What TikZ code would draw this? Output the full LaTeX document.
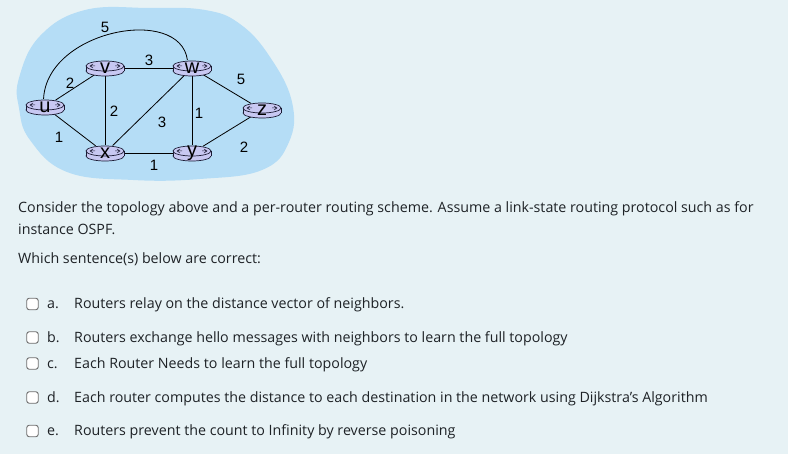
\documentclass[tikz,border=0pt]{standalone}
\usepackage{fontspec}
\setmainfont{Open Sans}
\newfontfamily\labelfont{Liberation Sans}
\usetikzlibrary{shapes.geometric}
\definecolor{bgcol}{HTML}{E7F2F5}
\definecolor{blobcol}{HTML}{B5DDF6}
\definecolor{rfill}{HTML}{C8C8F2}
\definecolor{rline}{HTML}{1A1A33}
\definecolor{txtcol}{HTML}{1E2226}
\definecolor{boxline}{HTML}{6E6E6E}
\tikzset{
  link/.style={draw=black, line width=0.8pt},
  rnode/.style={ellipse, minimum width=38pt, minimum height=16pt, inner sep=0pt},
  rlabel/.style={font=\labelfont\fontsize{20}{20}\selectfont, inner sep=0pt, text=black},
  wlabel/.style={font=\labelfont\fontsize{15}{15}\selectfont, inner sep=0pt, text=black},
  qtext/.style={font=\fontsize{14.25}{16}\selectfont, text=txtcol, anchor=base west, inner sep=0pt},
  cbox/.style={draw=boxline, fill=white, rounded corners=2.5pt, line width=0.9pt, minimum width=11.5pt, minimum height=11.5pt, inner sep=0pt},
}
\newcommand\router[4]{%
  \fill[rfill, draw=rline, line width=0.7pt] (#2,#3+3) ellipse[x radius=19pt, y radius=5pt];
  \fill[rfill] (#2-19,#3-2) rectangle (#2+19,#3+3);
  \draw[rline, line width=0.7pt] (#2-19,#3-2) -- (#2-19,#3+3) (#2+19,#3-2) -- (#2+19,#3+3);
  \fill[rfill, draw=rline, line width=0.7pt] (#2,#3-2) ellipse[x radius=19pt, y radius=5pt];
  \draw[rline, line width=0.5pt] (#2-12,#3-4) -- (#2-15,#3-2) -- (#2-12,#3) (#2-15,#3-2) -- (#2-10,#3-2);
  \draw[rline, line width=0.5pt] (#2+12,#3-4) -- (#2+15,#3-2) -- (#2+12,#3) (#2+15,#3-2) -- (#2+10,#3-2);
  \node[rnode] (#1) at (#2,#3) {};
  \node[rlabel] (#1-lab) at (#2,#3+0.5) {#4};
}
\begin{document}
\begin{tikzpicture}[x=1pt, y=-1pt]
\fill[bgcol] (0,0) rectangle (788,454);
\useasboundingbox (0,0) rectangle (788,454);
% cloud
\fill[blobcol] plot[smooth cycle, tension=0.7] coordinates {
  (19,78) (40,36) (85,10) (150,8) (205,10) (240,24) (270,57) (292,102)
  (289,142) (262,170) (200,179) (133,180) (67,172) (30,140) (19,108)};
% router node anchors (invisible, for links)
\node[rnode] (u) at (45,107) {};
\node[rnode] (v) at (105,68) {};
\node[rnode] (w) at (192,68) {};
\node[rnode] (z) at (262,110) {};
\node[rnode] (x) at (105,153) {};
\node[rnode] (y) at (192,153) {};
% links
\draw[link] (u) -- (v);
\draw[link] (u) -- (x);
\draw[link] (v) -- (w);
\draw[link] (v) -- (x);
\draw[link] (x) -- (w);
\draw[link] (w) -- (y);
\draw[link] (w) -- (z);
\draw[link] (x) -- (y);
\draw[link] (y) -- (z);
\draw[link] (u.100) .. controls (47,30) and (180,5) .. (w.120);
% routers
\router{ru}{45}{107}{u}
\router{rv}{105}{68}{v}
\router{rw}{192}{68}{w}
\router{rz}{262}{110}{z}
\router{rx}{105}{153}{x}
\router{ry}{192}{153}{y}
% weights
\node[wlabel] (l-uw) at (105,27) {5};
\node[wlabel] (l-vw) at (149,60) {3};
\node[wlabel] (l-uv) at (70,83) {2};
\node[wlabel] (l-wz) at (241,79) {5};
\node[wlabel] (l-vx) at (114,111) {2};
\node[wlabel] (l-wy) at (199,113) {1};
\node[wlabel] (l-xw) at (162,122) {3};
\node[wlabel] (l-ux) at (59,137) {1};
\node[wlabel] (l-yz) at (244,147) {2};
\node[wlabel] (l-xy) at (154,165) {1};
% question text
\node[qtext] (q1) at (18,213) {Consider the topology above and a per-router routing scheme. Assume a link-state routing protocol such as for};
\node[qtext] (q2) at (18,235) {instance OSPF.};
\node[qtext] (q3) at (18,264) {Which sentence(s) below are correct:};
% options
\node[cbox] (ba) at (32.5,304) {};
\node[cbox] (bb) at (32.5,337.5) {};
\node[cbox] (bc) at (32.5,363.5) {};
\node[cbox] (bd) at (32.5,397.5) {};
\node[cbox] (be) at (32.5,431) {};
\node[qtext] (la) at (47,309) {a.};
\node[qtext] (lb) at (47,343) {b.};
\node[qtext] (lc) at (47,369) {c.};
\node[qtext] (ld) at (47,403) {d.};
\node[qtext] (le) at (47,436) {e.};
\node[qtext] (ta) at (74,309) {Routers relay on the distance vector of neighbors.};
\node[qtext] (tb) at (74,343) {Routers exchange hello messages with neighbors to learn the full topology};
\node[qtext] (tc) at (74,369) {Each Router Needs to learn the full topology};
\node[qtext] (td) at (74,403) {Each router computes the distance to each destination in the network using Dijkstra's Algorithm};
\node[qtext] (te) at (74,436) {Routers prevent the count to Infinity by reverse poisoning};
\end{tikzpicture}
\end{document}
